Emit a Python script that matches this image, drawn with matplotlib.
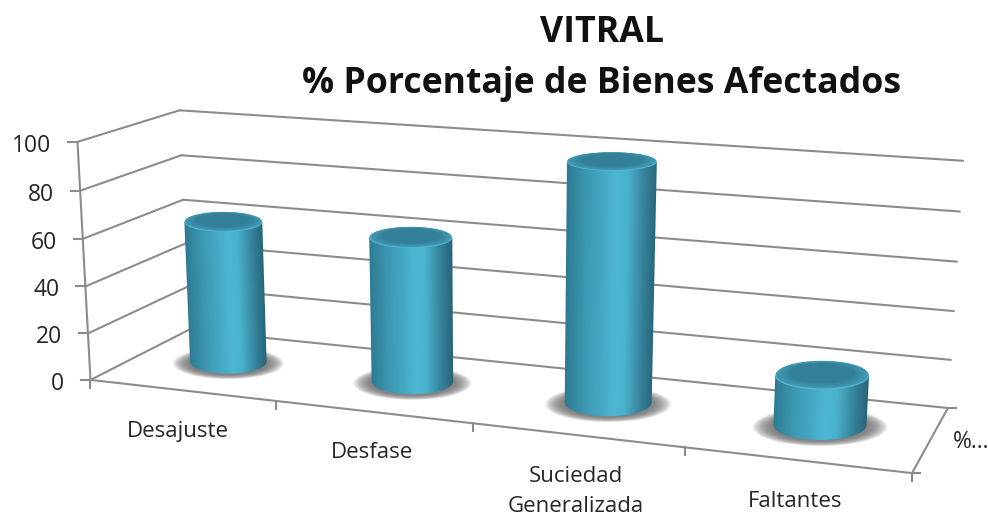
import numpy as np
import matplotlib
matplotlib.use("Agg")
import matplotlib.pyplot as plt
from matplotlib.colors import LinearSegmentedColormap, to_rgb
from matplotlib.patches import Polygon

categories = ["Desajuste", "Desfase", "Suciedad\nGeneralizada", "Faltantes"]
values = [61, 61, 98, 20]
value_ticks = [0, 20, 40, 60, 80, 100]
series_name = "%..."
title_lines = ["VITRAL", "% Porcentaje de Bienes Afectados"]

# label nudges from the front edge, in pixels
label_dx = [-4, -1, -1, -1]
label_dy = [41, 41, 41, 42]
LINE_STEP = 30
# small sideways nudge of the cylinders, in category units
bar_dx = [-0.022, -0.02, -0.02, -0.008]

plt.rcParams["font.family"] = ["Open Sans", "DejaVu Sans"]

# camera fitted on the corners of the chart box: (cat, value, depth) -> pixel
corners_world = [(0, 0, 0), (0, 100, 0), (0, 0, 1), (0, 100, 1), (4, 0, 1), (4, 100, 1), (4, 0, 0)]
corners_px = [(91, 379), (77, 142), (188, 331), (180, 110), (948, 407), (963, 161), (912, 474)]

A = []
b = []
for (X, Y, Z), (u, v) in zip(corners_world, corners_px):
    A.append([X, Y, Z, 1, 0, 0, 0, 0, -u * X, -u * Y, -u * Z])
    A.append([0, 0, 0, 0, X, Y, Z, 1, -v * X, -v * Y, -v * Z])
    b += [u, v]
p = np.linalg.lstsq(np.array(A, float), np.array(b, float), rcond=None)[0]
P = np.append(p, 1).reshape(3, 4)


def project(x, val, z):
    x, val, z = np.broadcast_arrays(np.asarray(x, float), np.asarray(val, float), np.asarray(z, float))
    w = P[2, 0] * x + P[2, 1] * val + P[2, 2] * z + P[2, 3]
    px = (P[0, 0] * x + P[0, 1] * val + P[0, 2] * z + P[0, 3]) / w
    py = (P[1, 0] * x + P[1, 1] * val + P[1, 2] * z + P[1, 3]) / w
    return px, py


fig = plt.figure(figsize=(9.88, 5.16), dpi=100)
ax = fig.add_axes([0, 0, 1, 1])
ax.axis("off")

GRID = "#8c8c8c"
LW = 1.5
TEXT = "#262626"


def seg(a, c):
    xs, ys = project([a[0], c[0]], [a[1], c[1]], [a[2], c[2]])
    ax.plot(xs, ys, color=GRID, lw=LW, solid_capstyle="round", zorder=1)


# walls and floor
for v in value_ticks:
    seg((0, v, 0), (0, v, 1))
    seg((0, v, 1), (4, v, 1))
    tx, ty = project(0, v, 0)
    ax.plot([tx - 9, tx], [ty, ty], color=GRID, lw=LW, zorder=1)
    ax.text(tx - 26, ty + 4, str(v), ha="right", va="center", fontsize=16.5, color=TEXT)
seg((0, 0, 0), (0, 100, 0))
seg((0, 0, 0), (4, 0, 0))
seg((4, 0, 0), (4, 0, 1))

# ticks on floor edges
for i in range(len(categories) + 1):
    tx, ty = project(i, 0, 0)
    ax.plot([tx, tx], [ty, ty + 8], color=GRID, lw=LW, zorder=1)
tx, ty = project(4, 0, 0)
ax.plot([tx, tx + 8], [ty, ty], color=GRID, lw=LW, zorder=1)
tx, ty = project(4, 0, 1)
ax.plot([tx, tx + 8], [ty, ty], color=GRID, lw=LW, zorder=1)

# shading across the cylinder, left (-1) to right (1)
side_cmap = LinearSegmentedColormap.from_list("side", [
    (0.0, "#2e7b93"), (0.2, "#3b96b0"), (0.55, "#4cb6d2"),
    (0.675, "#4ab2cd"), (0.875, "#347f97"), (1.0, "#28667a")])

RX = 0.215
RZ = 0.24
ZC = 0.53
th = np.linspace(0, 2 * np.pi, 121)


def disc(cx, val):
    # flat ellipse on screen at this height: centre, half width, half height
    x0, y0 = project(cx, val, ZC)
    xl, _ = project(cx - RX, val, ZC)
    xr, _ = project(cx + RX, val, ZC)
    _, yf = project(cx, val, ZC - RZ)
    _, yb = project(cx, val, ZC + RZ)
    return float(x0), float(y0), float(xr - xl) / 2, float(yf - yb) / 2


for i, val in enumerate(values):
    cx = i + 0.5 + bar_dx[i]
    bx, by, bw, bh = disc(cx, 0)
    tx, ty, tw, thh = disc(cx, val)

    # soft floor shadow
    for s in np.linspace(1, 0, 16) ** 0.8:
        ax.fill(bx + bw * (1 + 0.45 * s) * np.cos(th), by + 2 + bh * (0.9 + 0.38 * s) * np.sin(th),
                color="#505050", alpha=0.07, lw=0, zorder=2)

    # side of the cylinder: gradient image clipped to the outline
    x0 = min(tx - tw, bx - bw) - 2
    x1 = max(tx + tw, bx + bw) + 2
    y0 = ty - 2
    y1 = by + bh + 2
    gx, gy = np.meshgrid(np.linspace(x0, x1, int(x1 - x0) * 2), np.linspace(y0, y1, int(y1 - y0) * 2))
    frac = (gy - ty) / (by - ty)
    us = np.clip((gx - (tx + frac * (bx - tx))) / (tw + frac * (bw - tw)), -1, 1)
    im = ax.imshow(side_cmap((us + 1) / 2), extent=[x0, x1, y1, y0], aspect="auto",
                   interpolation="bilinear", zorder=3)
    ang = np.linspace(0, np.pi, 90)
    outline = np.column_stack([bx + bw * np.cos(ang), by + bh * np.sin(ang)])
    outline = np.vstack([outline, [tx - tw, ty], [tx + tw, ty]])
    im.set_clip_path(Polygon(outline, closed=True, transform=ax.transData))

    # top face, bright lip going to a darker middle
    ax.fill(tx + tw * np.cos(th), ty + thh * np.sin(th), color="#4fb7d3", lw=0, zorder=4)
    outer = np.array(to_rgb("#429ab4"))
    inner = np.array(to_rgb("#347f98"))
    for t in np.linspace(0, 1, 12):
        k = 0.985 - 0.3 * t
        ax.fill(tx + tw * k * np.cos(th), ty - thh * 0.08 - thh * 0.1 * t + thh * k * np.sin(th),
                color=outer + (inner - outer) * t, lw=0, zorder=4)

# category labels, one text per line
for i, name in enumerate(categories):
    tx, ty = project(i + 0.5, 0, 0)
    for n, line in enumerate(name.split("\n")):
        ax.text(tx + label_dx[i], ty + label_dy[i] + n * LINE_STEP, line, ha="center", va="center",
                fontsize=16, color=TEXT)

ax.text(971, 442, series_name, ha="center", va="center", fontsize=16.5, color=TEXT)

ax.text(602, 33, title_lines[0], ha="center", va="center", fontsize=25.7, fontweight="bold", color="#111111")
ax.text(602, 84, title_lines[1], ha="center", va="center", fontsize=25.7, fontweight="bold", color="#111111")

ax.set_xlim(0, 988)
ax.set_ylim(516, 0)

fig.savefig("out.png", dpi=100)
